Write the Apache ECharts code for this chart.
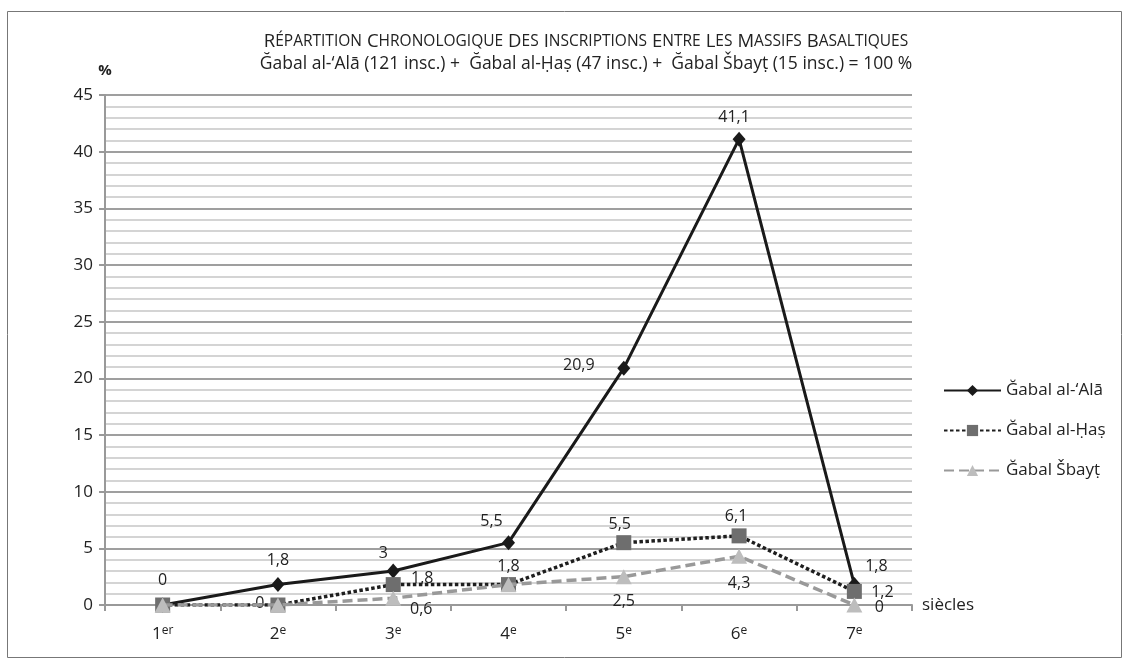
<!DOCTYPE html>
<html>
<head>
<meta charset="utf-8">
<script src="https://cdn.jsdelivr.net/npm/echarts@6/dist/echarts.min.js"></script>
<style>html,body{margin:0;padding:0;background:#fff}#c{width:1130px;height:664px}</style>
</head>
<body>
<div id="c"></div>
<script>
const categories = ['1er', '2e', '3e', '4e', '5e', '6e', '7e'];
const seriesNames = ['Ğabal al-‘Alā', 'Ğabal al-Ḥaṣ', 'Ğabal Šbayṭ'];
const alaValues = [0, 1.8, 3, 5.5, 20.9, 41.1, 1.8];
const hasValues = [0, 0, 1.8, 1.8, 5.5, 6.1, 1.2];
const sbaytValues = [0, 0, 0.6, 1.8, 2.5, 4.3, 0];
const yTicks = [0, 5, 10, 15, 20, 25, 30, 35, 40, 45];

// label placement (offset of label centre from the point), null = no label
const alaLabelOffsets = [[0,-25],[0,-24],[-10,-18],[-17,-21],[-45,-3],[-5,-22],[22,-18]];
const hasLabelOffsets = [null,[-18,-2],[29,-6],[0,-18],[-4,-18],[-3,-19],[28,1]];
const sbaytLabelOffsets = [null,null,[28,11],null,[0,25],[0,27],[25,2]];

const FONT = 'Open Sans';
const TXT = '#222';

function fmt(v){ return String(v).replace('.', ','); }
function buildData(values, offsets){
  return values.map((v,i)=>{
    const o = offsets[i];
    return {
      value: v,
      label: o ? {show:true, position:'inside', offset:o, formatter: fmt(v),
                  color:TXT, fontSize:16, fontFamily:FONT} : {show:false}
    };
  });
}

const chart = echarts.init(document.getElementById('c'));
function sc(word){ return '{b|' + word[0] + '}{s|' + word.slice(1) + '}'; }
const line1 = 'RÉPARTITION CHRONOLOGIQUE DES INSCRIPTIONS ENTRE LES MASSIFS BASALTIQUES'
  .split(' ').map(sc).join(' ');
const line2 = '{n|Ğabal al-‘Alā (121 insc.) +  Ğabal al-Ḥaṣ (47 insc.) +  Ğabal Šbayṭ (15 insc.) = 100 %}';

chart.setOption({
  animation:false,
  backgroundColor:'#fff',
  graphic:[{type:'rect', shape:{x:7.5,y:11.5,width:1114,height:646},
            style:{fill:'none', stroke:'#777', lineWidth:1}}],
  title:{
    text: line1 + '\n' + line2,
    left: 581, top: 25, textAlign:'center',
    textStyle:{
      fontWeight:'normal',
      lineHeight:23,
      rich:{
        b:{fontSize:18.5, fontFamily:FONT, fontWeight:'normal', color:TXT, lineHeight:23},
        s:{fontSize:15.5, fontFamily:FONT, fontWeight:'normal', color:TXT, lineHeight:23},
        n:{fontSize:17.5, fontFamily:FONT, fontWeight:'normal', color:TXT, lineHeight:23}
      }
    }
  },
  legend:{
    orient:'vertical', left:938, top:377,
    itemWidth:57, itemHeight:14, itemGap:23,
    textStyle:{fontSize:17, fontFamily:FONT, color:TXT},
    data: seriesNames
  },
  grid:{left:105, right:218, top:95, bottom:59, containLabel:false},
  xAxis:{
    type:'category', data:categories, boundaryGap:true,
    name:'siècles', nameLocation:'end', nameGap:10,
    nameTextStyle:{fontSize:17, fontFamily:FONT, color:TXT, verticalAlign:'middle'},
    axisLine:{lineStyle:{color:'#999', width:2}},
    axisTick:{show:true, length:6, lineStyle:{color:'#999', width:2}, alignWithLabel:false},
    axisLabel:{
      margin:20, color:TXT,
      formatter:function(v){
        const m = v.match(/^(\d+)(.*)$/);
        return '{n|' + m[1] + '}{s|' + m[2] + '}';
      },
      rich:{
        n:{fontSize:17, fontFamily:FONT, color:TXT, verticalAlign:'bottom'},
        s:{fontSize:12, fontFamily:FONT, color:TXT, verticalAlign:'top', padding:[0,0,6,0]}
      }
    }
  },
  yAxis:{
    type:'value', min:0, max:45, interval:5,
    name:'%', nameLocation:'end', nameGap:17,
    nameTextStyle:{fontSize:15, fontWeight:'bold', fontFamily:FONT, color:TXT, align:'center'},
    axisLine:{show:true, lineStyle:{color:'#999', width:2}},
    axisTick:{show:true, length:6, lineStyle:{color:'#999', width:2}},
    axisLabel:{margin:12, fontSize:17, fontFamily:FONT, color:TXT,
      formatter:function(v){ return yTicks.indexOf(v) >= 0 ? String(v) : ''; }},
    splitLine:{show:true, lineStyle:{color:'#9f9f9f', width:2}},
    minorTick:{show:false, splitNumber:5},
    minorSplitLine:{show:true, lineStyle:{color:'#c6c6c6', width:1.5}}
  },
  series:[
    {
      name:seriesNames[0], type:'line', data:buildData(alaValues, alaLabelOffsets),
      symbol:'diamond', symbolSize:[13,15],
      lineStyle:{color:'#1a1a1a', width:3},
      itemStyle:{color:'#1a1a1a'},
      z:2
    },
    {
      name:seriesNames[1], type:'line', data:buildData(hasValues, hasLabelOffsets),
      symbol:'rect', symbolSize:15,
      lineStyle:{color:'#1e1e1e', width:3.5, type:[3.5,2.5]},
      itemStyle:{color:'#6e6e6e'},
      z:3
    },
    {
      name:seriesNames[2], type:'line', data:buildData(sbaytValues, sbaytLabelOffsets),
      symbol:'triangle', symbolSize:[16,15],
      lineStyle:{color:'#999', width:3.5, type:[10,5]},
      itemStyle:{color:'#bdbdbd'},
      z:4
    }
  ]
});
</script>
</body>
</html>
